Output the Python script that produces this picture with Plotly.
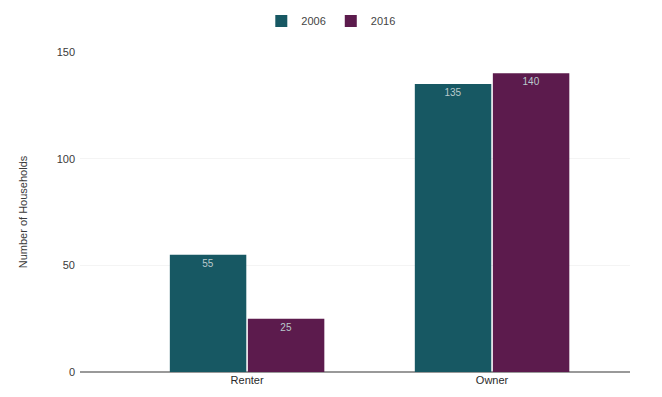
import plotly.graph_objects as go

categories = ["Renter", "Owner"]
series_names = ["2006", "2016"]
values_2006 = [55, 135]
values_2016 = [25, 140]
colors = ["#175863", "#5c1b4d"]

fig = go.Figure()
for name, vals, col in zip(series_names, [values_2006, values_2016], colors):
    fig.add_trace(go.Bar(
        x=categories, y=vals, name=name, marker=dict(color=col, line=dict(width=0)),
        text=[str(v) for v in vals], textposition="inside", insidetextanchor="end",
        textfont=dict(color="#b9c9cc", size=10, family="Liberation Sans"),
        textangle=0,
    ))

fig.update_layout(
    template="none",
    width=662, height=397,
    margin=dict(l=80, r=32, t=52, b=25, autoexpand=False),
    paper_bgcolor="white", plot_bgcolor="white",
    barmode="group", bargap=0.363, bargroupgap=0.02,
    font=dict(family="Liberation Sans, Arial, sans-serif", size=11, color="#3a3a3a"),
    legend=dict(orientation="h", x=0.456, xanchor="center", y=1 - 21 / 397, yanchor="middle",
                yref="container", font=dict(size=11, color="#444444"), itemwidth=30),
    showlegend=True,
)
fig.update_xaxes(range=[-0.682, 1.563], showgrid=False, showline=False, zeroline=False,
                 tickfont=dict(size=11, color="#2a2a2a"), ticks="")
fig.update_yaxes(range=[0, 150], tickvals=[0, 50, 100, 150], showgrid=True, gridcolor="#f4f4f4",
                 zeroline=True, zerolinecolor="#999999", zerolinewidth=1.5,
                 title=dict(text="Number of Households", font=dict(size=11, color="#3a3a3a"), standoff=26),
                 tickfont=dict(size=11, color="#3a3a3a"), ticks="", ticklabelstandoff=4)
fig.write_html("out.html")
